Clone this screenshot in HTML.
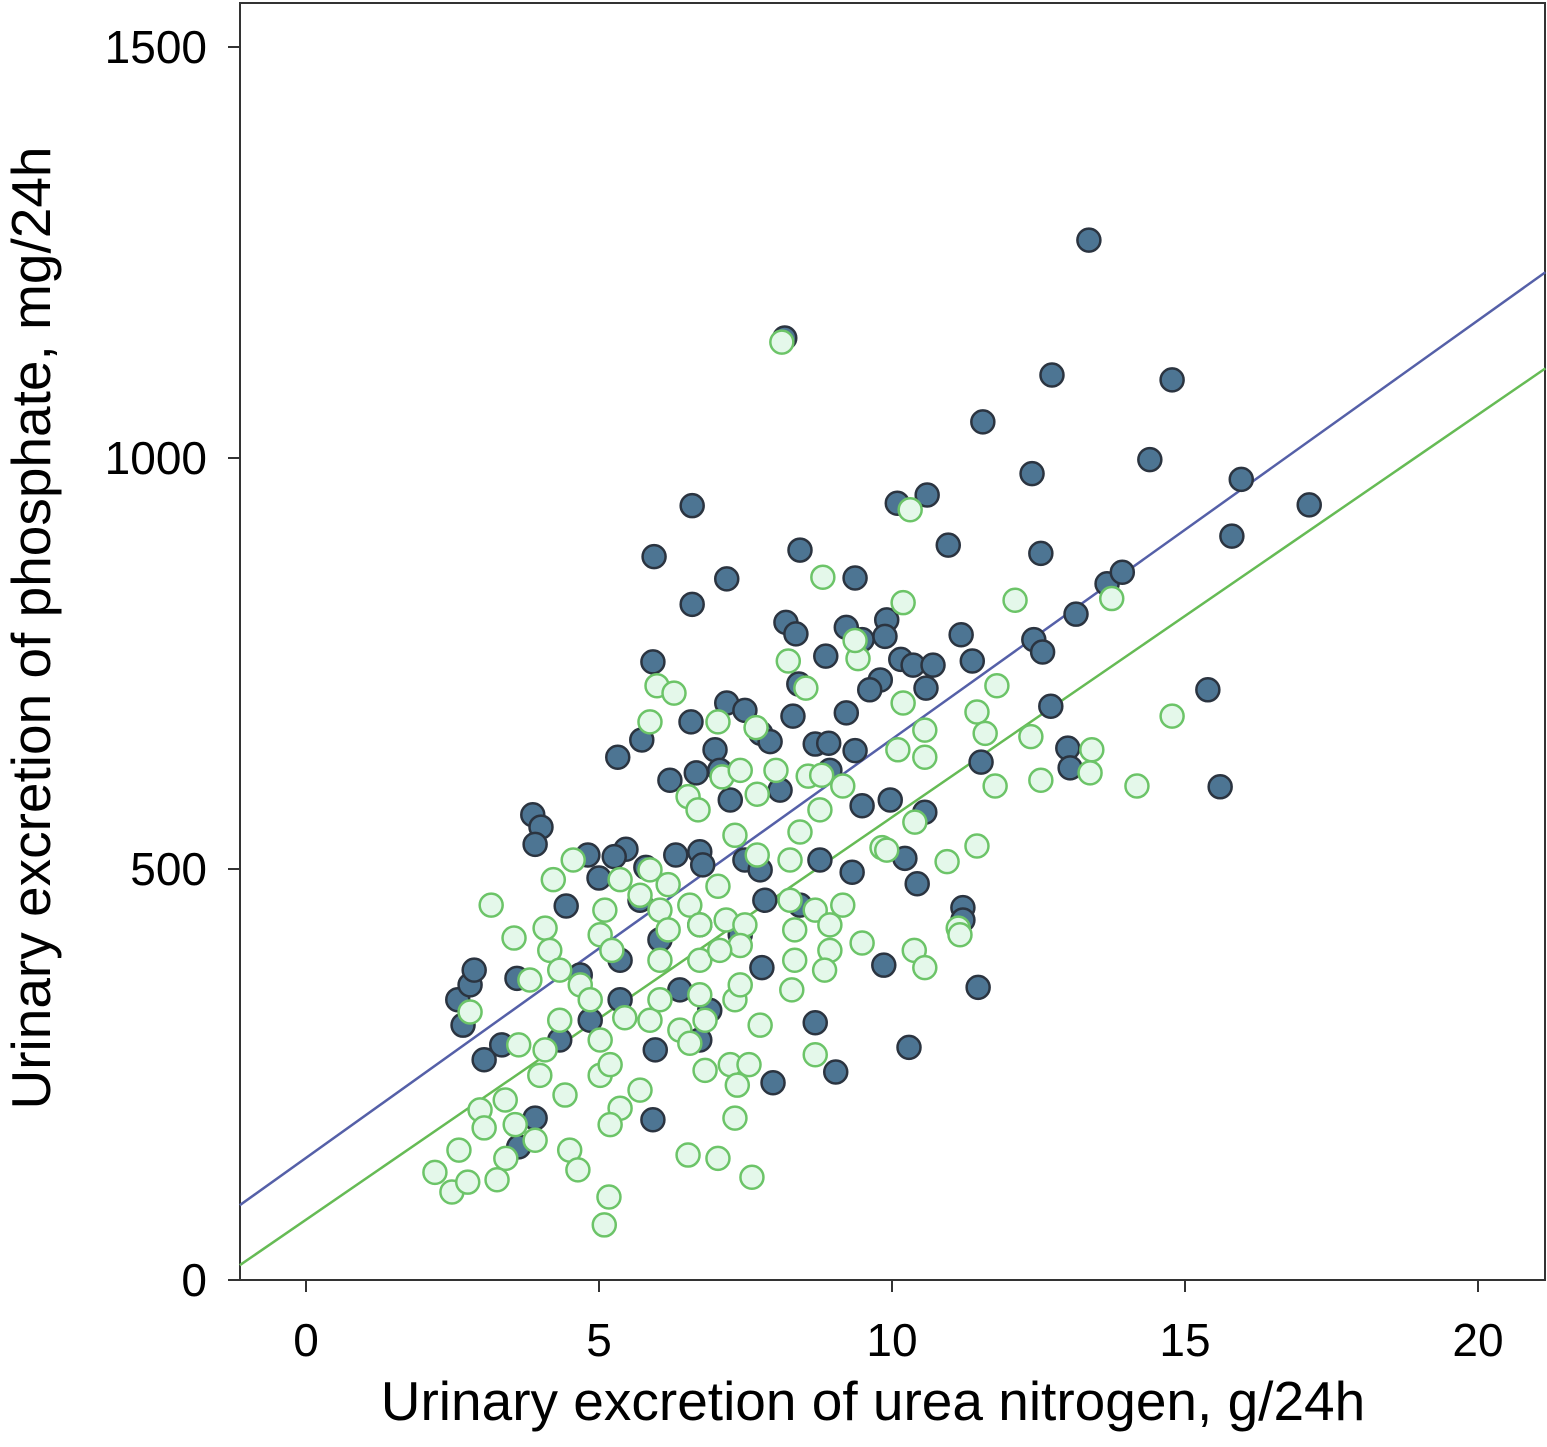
<!DOCTYPE html>
<html><head><meta charset="utf-8"><style>
html,body{margin:0;padding:0;background:#fff}
svg{display:block;font-family:"Liberation Sans",Arial,sans-serif}
</style></head><body>
<svg id="chart" width="1547" height="1447" viewBox="0 0 1547 1447">
<rect x="240" y="3" width="1305" height="1277" fill="#fff" stroke="#333" stroke-width="2"/>
<g id="axes"></g>
<g id="lines"></g>
<g id="dark"></g>
<g id="green"></g>
<text x="873" y="1420" font-size="55" text-anchor="middle" fill="#000">Urinary excretion of urea nitrogen, g/24h</text>
<text transform="translate(50,628) rotate(-90)" font-size="55" text-anchor="middle" fill="#000">Urinary excretion of phosphate, mg/24h</text>
</svg>
<script>
const xTicks=[0,5,10,15,20];
const yTicks=[0,500,1000,1500];
const darkX=[13.36,8.17,12.73,14.78,11.55,12.39,14.4,15.96,17.12,10.09,10.6,6.59,15.8,10.96,12.54,5.94,8.43,7.18,9.37,13.67,13.93,6.59,13.14,8.19,8.36,9.91,9.22,9.49,9.88,11.18,12.42,12.57,11.37,8.87,10.15,10.36,10.7,10.58,5.92,9.8,9.62,8.41,8.31,7.18,7.49,9.22,12.71,15.39,6.57,5.73,5.32,7.76,7.92,8.69,8.92,9.37,6.98,7.06,6.66,13.0,13.04,11.52,15.6,9.49,9.97,10.56,3.87,4.01,3.91,5.46,5.26,4.81,5.0,5.8,6.31,6.72,6.77,10.22,10.43,9.32,4.44,11.21,11.21,7.78,9.86,2.59,2.8,2.87,2.68,3.6,11.47,8.69,3.04,3.34,10.29,7.97,9.04,5.92,3.63,3.91,5.7,6.04,5.36,6.72,7.41,6.38,4.85,4.33,6.89,7.83,7.49,5.36,5.96,7.75,8.43,8.77,6.72,4.68,7.24,8.09,6.21,8.94];
const darkY=[1265,1146,1101,1095,1044,981,998,974,943,945,955,942,905,894,884,880,888,853,854,847,861,822,810,800,786,803,794,779,783,785,779,764,753,759,755,748,748,720,752,730,718,725,686,702,693,690,698,718,679,657,636,665,655,652,653,644,645,620,617,647,623,630,600,577,584,569,566,551,530,524,515,517,489,502,517,521,505,513,482,496,455,453,438,380,383,341,359,377,310,367,356,313,268,286,283,240,253,195,162,197,462,414,389,432,420,353,316,292,328,462,511,341,280,499,456,511,292,371,584,596,608,620];
const greenX=[8.12,10.31,8.82,10.19,12.1,13.75,8.23,9.42,9.37,5.99,6.28,5.87,7.03,7.68,8.53,11.79,11.45,11.59,10.19,10.1,10.56,10.56,12.37,14.78,13.41,13.38,12.54,11.76,14.18,8.02,8.57,7.1,6.52,6.69,7.41,7.7,8.8,8.77,9.16,10.39,11.45,10.94,9.83,9.91,8.43,8.26,7.32,7.7,4.56,4.22,3.16,3.55,4.08,4.16,5.1,5.02,5.22,5.7,6.04,6.18,6.55,6.72,7.03,7.17,7.49,7.41,8.26,8.34,8.69,8.94,9.16,8.94,9.49,10.38,10.56,11.13,11.16,8.34,8.85,8.29,4.33,3.82,2.8,3.63,4.08,4.68,4.85,5.44,5.87,6.04,6.72,6.81,7.32,7.75,7.41,6.38,6.55,6.81,7.24,7.56,7.36,8.69,3.99,4.42,5.02,5.19,5.36,5.7,3.4,3.57,2.97,3.04,3.91,4.5,4.64,5.19,7.32,2.61,3.41,2.2,2.49,2.76,3.26,6.52,7.03,7.61,5.17,5.09,5.36,5.87,6.18,6.04,6.72,7.06,4.33,5.02];
const greenY=[1141,937,855,824,827,829,753,756,778,723,714,679,679,672,720,723,691,665,702,645,669,636,661,686,645,617,608,601,601,620,613,612,588,572,620,591,614,572,601,557,528,509,526,523,545,511,541,517,511,487,456,416,428,401,450,420,401,468,450,426,456,432,479,438,432,407,462,426,450,432,456,401,410,401,380,428,420,389,377,353,377,365,326,286,280,359,341,319,316,341,347,316,341,310,359,304,288,255,262,262,237,274,249,225,249,262,209,231,219,189,207,185,170,158,134,189,197,158,148,131,107,119,122,152,148,125,101,67,487,499,481,389,389,401,316,292];
const blueLine=[91,1226];
const greenLine=[18,1109];
const xDomain=[-1.13,21.15];

const NS="http://www.w3.org/2000/svg";
function sx(v){return 306+(v-0)*58.6;}
function sy(v){return 1280-v*0.822;}
function mk(tag,attrs,parent){const e=document.createElementNS(NS,tag);for(const k in attrs)e.setAttribute(k,attrs[k]);parent.appendChild(e);return e;}
const axes=document.getElementById('axes');
xTicks.forEach(t=>{
  const l=mk('line',{x1:sx(t),x2:sx(t),y1:1280,y2:1292,stroke:'#333','stroke-width':2},axes);
  
  
  const tx=mk('text',{x:sx(t),y:1356,'font-size':46,'text-anchor':'middle'},axes);
  tx.textContent=t;
  
  
});
yTicks.forEach(t=>{
  const l=mk('line',{x1:228,x2:240,y1:sy(t),y2:sy(t),stroke:'#333','stroke-width':2},axes);
  
  
  const tx=mk('text',{x:207,y:sy(t)+16,'font-size':46,'text-anchor':'end'},axes);
  tx.textContent=t;
  
  
});
const lines=document.getElementById('lines');
const bl=mk('line',{x1:sx(xDomain[0]),y1:sy(blueLine[0]),x2:sx(xDomain[1]),y2:sy(blueLine[1]),stroke:'#5560a8','stroke-width':2.5},lines);


const gl=mk('line',{x1:sx(xDomain[0]),y1:sy(greenLine[0]),x2:sx(xDomain[1]),y2:sy(greenLine[1]),stroke:'#66bb55','stroke-width':2.5},lines);


const dg=document.getElementById('dark');
darkX.forEach((x,i)=>{
  const c=mk('circle',{cx:sx(x),cy:sy(darkY[i]),r:11.5,fill:'#4d7593',stroke:'#2b3440','stroke-width':2.5},dg);
  
  
});
const gg=document.getElementById('green');
greenX.forEach((x,i)=>{
  const c=mk('circle',{cx:sx(x),cy:sy(greenY[i]),r:11.5,fill:'#e4f8ea',stroke:'#6cc468','stroke-width':2.5},gg);
  
  
});
</script>
</body></html>
